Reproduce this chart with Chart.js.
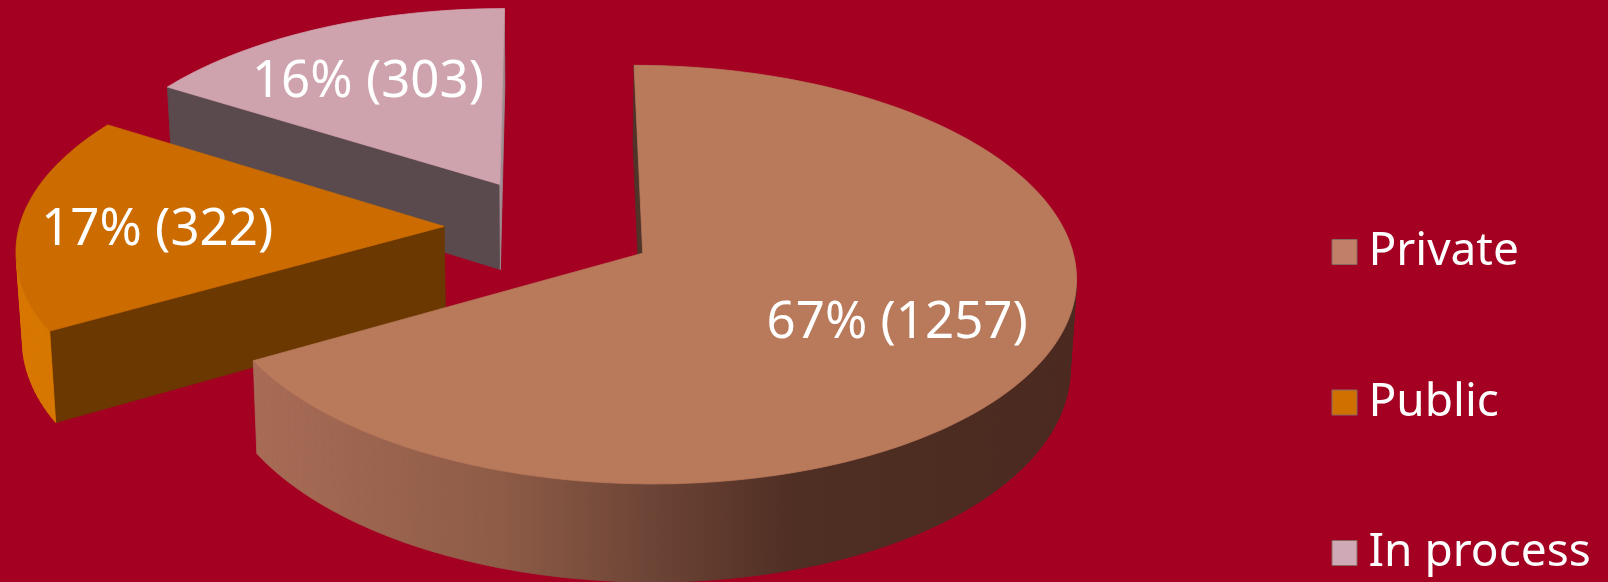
<!DOCTYPE html>
<html>
<head>
<meta charset="utf-8">
<style>html,body{margin:0;padding:0;background:#a30022;overflow:hidden}canvas{display:block}</style>
<script src="https://cdn.jsdelivr.net/npm/chart.js@4/dist/chart.umd.min.js"></script>
</head>
<body>
<canvas id="c" width="1608" height="582"></canvas>
<script>
const categories = ['Private', 'Public', 'In process'];
const counts = [1257, 322, 303];
const topColors = ['#b97a5c', '#cc6c00', '#cfa3ad'];
const legendColors = ['#c17f68', '#d07000', '#cfa9b5'];
const startCutColors = ['#4f3228', '#6a3800', '#5a494d'];
const endCutColors = ['#4f3228', '#6a3800', '#a08c92'];
const labelNudges = [[-7, -2], [-3, 7], [-7, 5]];
const rimStops = [
  [[0, '#a86c56'], [0.3, '#8e5c47'], [0.47, '#6f4637'], [0.66, '#4f2e23'], [1, '#4a2a20']],
  [[0, '#d87800'], [1, '#c86c00']],
  [[0, '#5a494d'], [1, '#5a494d']]
];
const FONT = '"Noto Sans", sans-serif';
const view = { radius: 425, cx: 550, cy: 227.5, tilt: 0.475, dist: 4200, depth: 87, taper: 0.012, labelAt: 0.67 };
const legendBox = { left: 1239, top: 124.5 };

const pie3d = {
  id: 'pie3d',
  afterLayout(chart) {
    const l = chart.legend, w = l.width, h = l.height;
    l.left = legendBox.left; l.right = l.left + w;
    l.top = legendBox.top; l.bottom = l.top + h;
  },
  beforeDatasetsDraw(chart) {
    const ctx = chart.ctx;
    const arcs = chart.getDatasetMeta(0).data;
    const total = counts.reduce((a, b) => a + b, 0);
    const project = (u, v, low) => {
      const p = view.dist / (view.dist - v);
      const t = low ? 1 - view.taper : 1;
      return [view.cx + u * p * t, view.cy + view.tilt * v * p + (low ? view.depth * p : 0)];
    };
    const poly = (pts, fill) => {
      ctx.beginPath();
      pts.forEach((q, i) => i ? ctx.lineTo(q[0], q[1]) : ctx.moveTo(q[0], q[1]));
      ctx.closePath();
      ctx.fillStyle = fill; ctx.strokeStyle = fill; ctx.lineWidth = 0.8;
      ctx.fill(); ctx.stroke();
    };
    const area = q => {
      let s = 0;
      q.forEach((a, i) => { const b = q[(i + 1) % q.length]; s += a[0] * b[1] - b[0] * a[1]; });
      return s;
    };
    const geom = arcs.map(arc => {
      const k = view.radius / arc.outerRadius;
      const mid = (arc.startAngle + arc.endAngle) / 2;
      const off = arc.options.offset * k;
      return { arc, k, mid, ou: Math.cos(mid) * off, ov: Math.sin(mid) * off };
    });
    for (let i = arcs.length - 1; i >= 0; i--) {
      const { arc, ou, ov } = geom[i];
      const steps = Math.ceil((arc.endAngle - arc.startAngle) * 40);
      const rimG = [];
      for (let s = 0; s <= steps; s++) {
        const a = arc.startAngle + (arc.endAngle - arc.startAngle) * s / steps;
        rimG.push([ou + view.radius * Math.cos(a), ov + view.radius * Math.sin(a)]);
      }
      const ring = [[ou, ov], ...rimG];
      const top = ring.map(g => project(g[0], g[1], false));
      const low = ring.map(g => project(g[0], g[1], true));
      const xs = top.map(q => q[0]);
      const grad = ctx.createLinearGradient(Math.min(...xs), 0, Math.max(...xs), 0);
      rimStops[i].forEach(s => grad.addColorStop(s[0], s[1]));
      const n = ring.length;
      for (let e = 0; e < n; e++) {
        const f = (e + 1) % n;
        const quad = [top[e], top[f], low[f], low[e]];
        if (area(quad) < 0) poly(quad, e === 0 ? startCutColors[i] : f === 0 ? endCutColors[i] : grad);
      }
      poly(top, arc.options.backgroundColor);
    }
    ctx.save();
    ctx.fillStyle = '#fff';
    ctx.font = `51px ${FONT}`;
    ctx.textAlign = 'center';
    ctx.textBaseline = 'middle';
    arcs.forEach((arc, i) => {
      const { mid, ou, ov } = geom[i];
      const r = view.radius * view.labelAt;
      const q = project(ou + r * Math.cos(mid), ov + r * Math.sin(mid), false);
      ctx.fillText(`${Math.round(counts[i] / total * 100)}% (${counts[i]})`, q[0] + labelNudges[i][0], q[1] + labelNudges[i][1]);
    });
    ctx.restore();
    return false;
  }
};

new Chart(document.getElementById('c'), {
  type: 'pie',
  data: {
    labels: categories,
    datasets: [{ data: counts, backgroundColor: topColors, offset: 64.5, borderWidth: 0 }]
  },
  options: {
    responsive: false,
    animation: false,
    plugins: {
      tooltip: { enabled: false },
      legend: {
        position: 'right',
        align: 'start',
        labels: {
          color: '#fff',
          font: { family: FONT, size: 46 },
          usePointStyle: true,
          pointStyle: 'rect',
          boxWidth: 2,
          boxHeight: 25,
          padding: 104.5,
          generateLabels: chart => categories.map((t, i) => ({
            text: t, fillStyle: legendColors[i], strokeStyle: '#8a6a60', lineWidth: 1,
            pointStyle: 'rect', hidden: false, index: i, fontColor: '#fff'
          }))
        }
      }
    }
  },
  plugins: [pie3d]
});
</script>
</body>
</html>
